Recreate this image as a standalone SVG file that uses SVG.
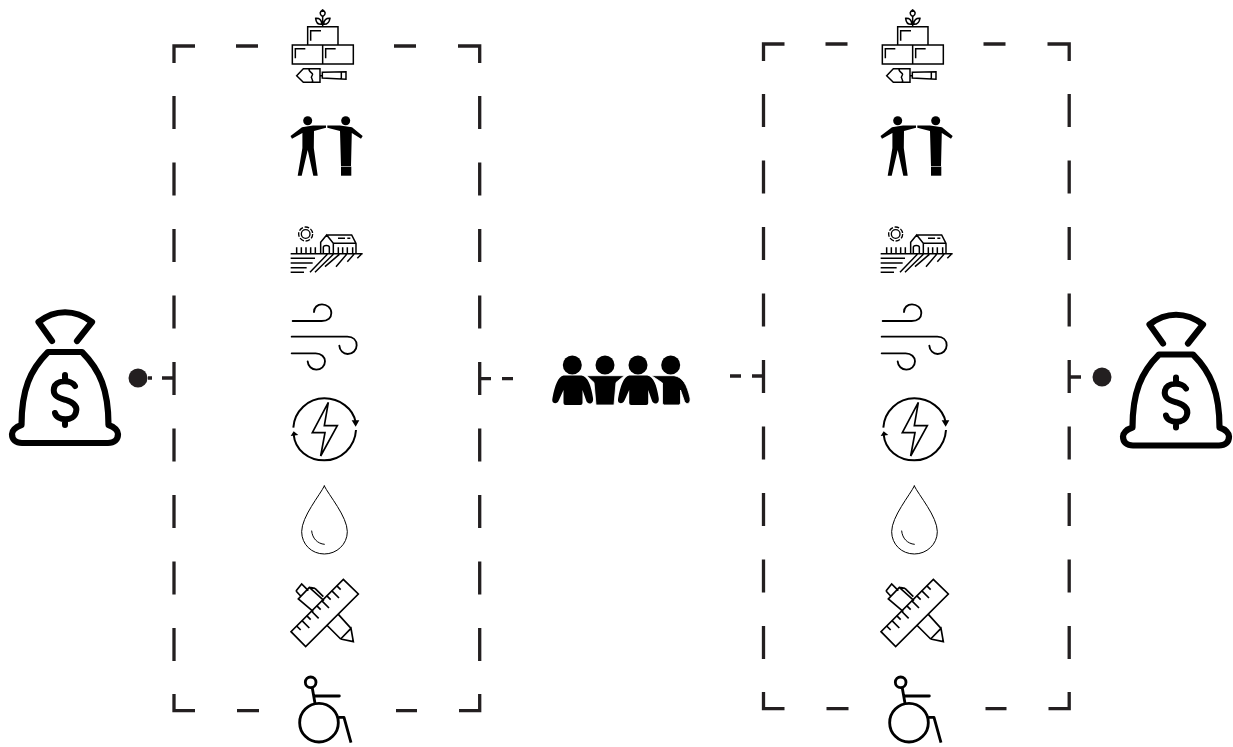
<svg xmlns="http://www.w3.org/2000/svg" xmlns:xlink="http://www.w3.org/1999/xlink" width="1233" height="747" viewBox="0 0 1233 747">
<defs>
<style>
.b{fill:none;stroke:#231f20;stroke-width:3.3}
.d{fill:#231f20}
.k{fill:none;stroke:#000;stroke-linecap:round;stroke-linejoin:round}
.m{fill:none;stroke:#000;stroke-linecap:butt;stroke-linejoin:miter}
.f{fill:#000}
</style>
<path id="frame" d="M174 63V46H195M236 46H258M394 46H416M458 46H479.700V63M174 96V129M174 162.500V195.500M174 229V262M174 295.500V328.500M174 362V395M174 428.500V461.500M174 495V528M174 561.500V594.500M174 628V661M174 694V710.700H195M237 710.700H259M396 710.700H417M459 710.700H479.700V694M479.700 96V129M479.700 162.500V195.500M479.700 229V262M479.700 295.500V328.500M479.700 362V395M479.700 428.500V461.500M479.700 495V528M479.700 561.500V594.500M479.700 628V661"/>
<g id="i-bricks" transform="translate(270 0) scale(.3333)">
<g class="m" stroke-width="4.500">
<path d="M113 135V80H204V135M67 135H250V192H67ZM158 135V192M122 122V92H153M76 175V146H106M167 175V146H197"/>
<path d="M158 80V50M158 50C146 42 150 35 158 30C166 35 170 42 158 50ZM155 73C142 74 138 66 137 55C148 54 156 60 155 73ZM161 73C174 74 178 66 180 55C169 54 161 60 161 73Z"/>
<path d="M80 227L100 206H150V247H100ZM118 206C112 216 134 219 126 227C118 235 134 238 126 247M150 227H157M157 217L228 215V238L157 234ZM214 215V238"/>
</g>
</g>
<g id="i-people" class="f">
<circle cx="307.700" cy="120.700" r="4.500"/><circle cx="345.700" cy="120.700" r="4.500"/>
<path d="M326 125.500L326 127.700L314 131L313.800 148L317.700 175.700L313.300 175.700L307.700 150L301.700 175.700L297.700 175.700L302.400 148L302.400 133L292 138.700L290.500 136L302 127.300L313 125.500Z"/>
<path d="M327.300 125.500L327.300 127.700L340 131L341 166H351L351.800 133L361 138.700L362.700 136L352 127.300L340 125.500Z"/>
<rect x="341" y="166.600" width="10.300" height="9.100"/>
</g>
<g id="i-farm" transform="translate(270 215) scale(.3333)">
<circle cx="107" cy="57" r="13" class="m" stroke-width="4"/>
<circle cx="107" cy="57" r="21" class="m" stroke-width="4" stroke-dasharray="14 5"/>
<g class="m" stroke-width="4.500">
<path d="M62 116H278M62 130H135M62 144H128M62 158H110M62 172H102M120 172L172 118M135 172L190 118M165 155L208 118M198 155L230 118M232 140L252 118M262 130L274 118M80 97V116M94 97V116M108 97V116M122 97V116M136 97V116"/>
<path d="M152 116V82L170 60L190 85V116M170 60H245L258 85V116M190 85H258M160 116V97C160 90 178 90 178 97V116M204 70H225M232 70H241M205 97V116M218 97V116M232 97V116M248 97V116"/>
</g>
</g>
<g id="i-wind" transform="translate(270 215) scale(.3333)">
<g class="k" stroke-width="5.500">
<path d="M68 318H155C174 318 184 308 184 294C184 278 170 268 156 268C142 268 132 278 132 291"/>
<path d="M65 365H232C250 365 260 376 260 391C260 406 248 417 233 417C220 417 209 407 208 392"/>
<path d="M65 415H137C154 415 165 426 165 439C165 454 153 464 139 464C125 464 114 453 113 439"/>
</g>
</g>
<g id="i-energy" transform="translate(270 385) scale(.3333)">
<path class="m" stroke-width="6" d="M70 128C73 78 115 40 163 40C208 40 250 70 257 112M258 135C255 187 212 226 163 226C115 226 75 195 71 148"/>
<path class="f" d="M245 106L268 106L257 125ZM62 153L85 150L71 139Z"/>
<path class="m" stroke-width="5" d="M175 52L127 143H165L152 213L202 122H163Z"/>
</g>
<g id="i-drop" transform="translate(270 385) scale(.3333)">
<path class="k" stroke-width="3" d="M163 303C150 330 95 395 95 440C95 478 125 507 163 507C200 507 232 478 232 440C232 395 176 330 163 303Z"/>
<path class="k" stroke-width="3" d="M125 438C127 460 142 476 163 478"/>
</g>
<g id="i-tools" transform="translate(270 570) scale(.3333)">
<g class="m" stroke-width="5">
<path d="M220 28L265 72L107 230L63 185Z"/>
<path d="M80 168L92 180M96 152L118 174M110 137L122 149M124 123L146 145M140 107L152 119M155 92L177 114M170 77L182 89M185 62L207 84M200 47L212 59"/>
<path d="M170 165L212 207M205 133L243 175M212 207L243 175L250 215L212 207"/>
<path d="M130 125L85 87L118 52L162 92M78 63L95 42L115 62M78 63L92 78M135 55L160 80M118 52L135 55"/>
</g>
</g>
<g id="i-chair" transform="translate(270 570) scale(.3333)">
<g class="k" stroke-width="8.500">
<circle cx="122" cy="337" r="16"/>
<path d="M127 355L135 400M135 378H208"/>
<circle cx="147" cy="458" r="58"/>
<path d="M205 442H222L243 518" stroke-linecap="butt"/>
</g>
</g>
<g id="i-bag">
<g class="k" stroke-width="6.200">
<path d="M52 341L38.500 322C55 309 75 309 92 322L77 341"/>
<path d="M48 352H82C100 370 108.500 390 108.500 425C115 427 118 431 118 434C118 440 114 443 108 443H22C16 443 12 440 12 434C12 431 15 427 21.500 425C21.500 390 30 370 48 352Z"/>
<path stroke-width="6" d="M75 386C72 380 56 379 54 388C52 398 63 399 66 400C72 402 78 405 76 412C74 422 57 421 55 413M65 375V379M65 421V425"/>
</g>
</g>
<path id="crew1" d="M563.500 375.500H581.500C588 377 591 385 593 398C594 405 587 405 586 400L582.500 390V403Q582.500 405 580.500 405H565.500Q563.500 405 563.500 403V390L559 400C557 405 551 404 552.500 398C555 385 558 377 563.500 375.500Z"/>
</defs>
<rect width="1233" height="747" fill="#fff"/>
<g id="connectors">
<use xlink:href="#frame" href="#frame" class="b"/>
<use xlink:href="#frame" href="#frame" class="b" transform="translate(589.500 -2)"/>
<path class="b" d="M148 378H152M162 378H174M479.700 378.600H491M502 378.600H513M730 376H741M752 376H763.500M1069 377H1081"/>
<circle class="d" cx="138" cy="378" r="9.500"/>
<circle class="d" cx="1102" cy="377" r="9.500"/>
</g>
<g id="bag-left"><use xlink:href="#i-bag" href="#i-bag"/></g>
<g id="bag-right"><use xlink:href="#i-bag" href="#i-bag" transform="translate(1111 2.500)"/></g>
<g id="crew" class="f">
<circle cx="572.300" cy="365" r="9.500"/><circle cx="605" cy="365" r="9.500"/><circle cx="638" cy="365" r="9.500"/><circle cx="670.700" cy="365" r="9.500"/>
<use xlink:href="#crew1" href="#crew1"/>
<use xlink:href="#crew1" href="#crew1" transform="translate(65.700 0)"/>
<path d="M586.700 375.700H624.300L616 382.500L614 405H596L594 382.500Z" stroke="#fff" stroke-width=".8"/>
<path d="M651.700 375.700H674C683 377 687 385 690 398C691 405 685 405 684 400L680.500 390V403Q680.500 405 678.500 405H664.500Q662.500 405 662.500 403V383Z" stroke="#fff" stroke-width=".8"/>
</g>
<g id="col-left">
<g id="bricks-l"><use xlink:href="#i-bricks" href="#i-bricks"/></g>
<g id="people-l"><use xlink:href="#i-people" href="#i-people"/></g>
<g id="farm-l"><use xlink:href="#i-farm" href="#i-farm"/></g>
<g id="wind-l"><use xlink:href="#i-wind" href="#i-wind"/></g>
<g id="energy-l"><use xlink:href="#i-energy" href="#i-energy"/></g>
<g id="drop-l"><use xlink:href="#i-drop" href="#i-drop"/></g>
<g id="tools-l"><use xlink:href="#i-tools" href="#i-tools"/></g>
<g id="chair-l"><use xlink:href="#i-chair" href="#i-chair"/></g>
</g>
<g id="col-right" transform="translate(590 0)">
<g id="bricks-r"><use xlink:href="#i-bricks" href="#i-bricks"/></g>
<g id="people-r"><use xlink:href="#i-people" href="#i-people"/></g>
<g id="farm-r"><use xlink:href="#i-farm" href="#i-farm"/></g>
<g id="wind-r"><use xlink:href="#i-wind" href="#i-wind"/></g>
<g id="energy-r"><use xlink:href="#i-energy" href="#i-energy"/></g>
<g id="drop-r"><use xlink:href="#i-drop" href="#i-drop"/></g>
<g id="tools-r"><use xlink:href="#i-tools" href="#i-tools"/></g>
<g id="chair-r"><use xlink:href="#i-chair" href="#i-chair"/></g>
</g>
</svg>
